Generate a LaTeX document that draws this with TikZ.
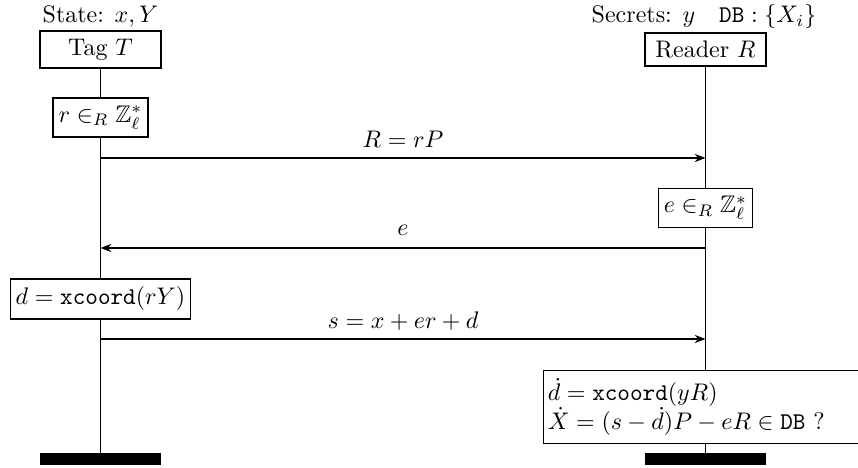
\documentclass[tikz,border=0pt]{standalone}
\usepackage{amssymb}
\usetikzlibrary{arrows.meta}
\begin{document}
\begin{tikzpicture}[x=0.41667pt,y=-0.41667pt,
  box/.style={draw,line width=0.6pt,fill=white,inner ysep=3.33pt,inner xsep=2.3pt},
  actor/.style={box,minimum width=50.4pt},
  msg/.style={line width=0.6pt,-{Stealth[length=4.5pt,width=3.4pt]}},
  life/.style={line width=0.6pt},
  endbar/.style={fill=black,minimum width=50.8pt,minimum height=5pt,inner sep=0pt},
  lbl/.style={anchor=base}]
\useasboundingbox (0,0) rectangle (858,468);
\node[lbl] (st) at (100.5,22.5) {State: $x,Y$};
\node[lbl] (sec) at (704,23) {Secrets: $y\quad\mathtt{DB}:\{X_i\}$};
\node[actor] (T) at (100.5,49.5) {Tag $T$};
\node[actor] (R) at (705.5,49.5) {Reader $R$};
\node[box] (r) at (100.5,117.5) {$r\in_R\mathbb{Z}_\ell^*$};
\node[box] (e) at (705.5,208) {$e\in_R\mathbb{Z}_\ell^*$};
\node[box] (d) at (100.5,299) {$d=\mathtt{xcoord}(rY)$};
\node[box, anchor=west, text width=132pt, align=left, inner xsep=1.7pt] (f) at (543,407) {$\dot d=\mathtt{xcoord}(yR)$\\ $\dot X=(s-\dot d)P-eR\in\mathtt{DB}$ ?};
\node[endbar] (Tb) at (100.5,459) {};
\node[endbar] (Rb) at (705.5,459) {};
% lifelines
\draw[life] (T.south) -- (r.north);
\draw[life] (r.south) -- (d.north);
\draw[life] (d.south) -- (Tb.north);
\draw[life] (R.south) -- (e.north);
\draw[life] (e.south) -- (f.north -| R.south);
\draw[life] (f.south -| R.south) -- (Rb.north);
% messages
\coordinate (m1a) at (100.5,158);
\coordinate (m1b) at (705.5,158);
\coordinate (m2a) at (705.5,248);
\coordinate (m2b) at (100.5,248);
\coordinate (m3a) at (100.5,339);
\coordinate (m3b) at (705.5,339);
\draw[msg] (m1a) -- (m1b);
\draw[msg] (m2a) -- (m2b);
\draw[msg] (m3a) -- (m3b);
\node[lbl] (l1) at (403,148) {$R=rP$};
\node[lbl] (l2) at (403,235.5) {$e$};
\node[lbl] (l3) at (403,329) {$s=x+er+d$};
\end{tikzpicture}
\end{document}
